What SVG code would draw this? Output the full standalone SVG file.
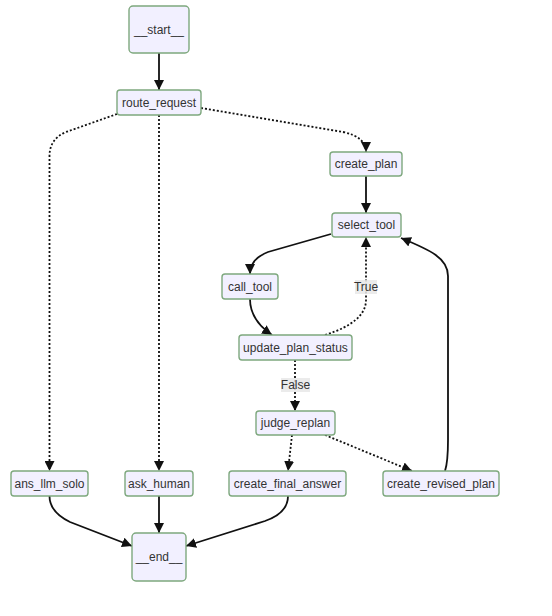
<svg xmlns="http://www.w3.org/2000/svg" width="552" height="616" viewBox="0 0 552 616">
<style>
.node rect{fill:#f2f0ff;stroke:#7ea87e;stroke-width:1.4}
.node text{font-family:"Liberation Sans",Arial,sans-serif;font-size:12px;fill:#333;text-anchor:middle;dominant-baseline:central}
.edge{fill:none;stroke:#111;stroke-width:1.8}
.dot{stroke-dasharray:2,2}
.lbl rect{fill:#e8e8e8;opacity:0.85}
.lbl text{font-family:"Liberation Sans",Arial,sans-serif;font-size:12px;fill:#333;text-anchor:middle;dominant-baseline:central}
</style>
<defs>
<marker id="arr" viewBox="0 0 10 10" refX="10" refY="5" markerWidth="10" markerHeight="10" markerUnits="userSpaceOnUse" orient="auto">
<path d="M0,0 L10,5 L0,10 z" fill="#111"/>
</marker>
</defs>
<rect width="552" height="616" fill="#fff"/>
<g id="edges">
<path class="edge" d="M159,53 L159,90" marker-end="url(#arr)"/>
<path class="edge dot" d="M201,108 L343,132 Q366,137 366,152" marker-end="url(#arr)"/>
<path class="edge dot" d="M117,114 L66,132 Q49.5,139 49.5,156 L49.5,471" marker-end="url(#arr)"/>
<path class="edge dot" d="M159,115 L159,471" marker-end="url(#arr)"/>
<path class="edge" d="M366,176 L366,213" marker-end="url(#arr)"/>
<path class="edge" d="M331,234 L268,252 Q250,259 250,274" marker-end="url(#arr)"/>
<path class="edge" d="M250,299 Q250,320 272,335" marker-end="url(#arr)"/>
<path class="edge dot" d="M325,335 Q366,322 366,300 L366,237" marker-end="url(#arr)"/>
<path class="edge dot" d="M295,360 L295,411" marker-end="url(#arr)"/>
<path class="edge dot" d="M292,435 L288,471" marker-end="url(#arr)"/>
<path class="edge dot" d="M325,435 L412,471" marker-end="url(#arr)"/>
<path class="edge" d="M445,471 C447,465 448,455 448,440 L448,276 C448,258 430,250 401,238" marker-end="url(#arr)"/>
<path class="edge" d="M49.5,496 Q49.5,512 70,522 L132,546" marker-end="url(#arr)"/>
<path class="edge" d="M159,496 L159,533" marker-end="url(#arr)"/>
<path class="edge" d="M288,496 Q288,513 265,521 L186,546" marker-end="url(#arr)"/>
<g class="lbl"><rect x="355" y="280" width="22" height="14"/><text x="366" y="287">True</text></g>
<g class="lbl"><rect x="281" y="378" width="29" height="14"/><text x="295.5" y="385">False</text></g>
</g>
<g id="start" class="node"><rect x="129" y="6" width="60" height="47" rx="4"/><text x="159" y="29.5">__start__</text></g>
<g id="route_request" class="node"><rect x="117" y="90" width="84" height="25" rx="3"/><text x="159" y="102.5">route_request</text></g>
<g id="create_plan" class="node"><rect x="330" y="152" width="72" height="24" rx="3"/><text x="366" y="164">create_plan</text></g>
<g id="select_tool" class="node"><rect x="332" y="213" width="69" height="24" rx="3"/><text x="366.5" y="225">select_tool</text></g>
<g id="call_tool" class="node"><rect x="222" y="274" width="56" height="25" rx="3"/><text x="250" y="286.5">call_tool</text></g>
<g id="update_plan_status" class="node"><rect x="239" y="335" width="113" height="25" rx="3"/><text x="295.5" y="347.5">update_plan_status</text></g>
<g id="judge_replan" class="node"><rect x="256" y="411" width="79" height="24" rx="3"/><text x="295.5" y="423">judge_replan</text></g>
<g id="ans_llm_solo" class="node"><rect x="11" y="471" width="77" height="25" rx="3"/><text x="49.5" y="483.5">ans_llm_solo</text></g>
<g id="ask_human" class="node"><rect x="125" y="471" width="68" height="25" rx="3"/><text x="159" y="483.5">ask_human</text></g>
<g id="create_final_answer" class="node"><rect x="229" y="471" width="117" height="25" rx="3"/><text x="287.5" y="483.5">create_final_answer</text></g>
<g id="create_revised_plan" class="node"><rect x="383" y="471" width="116" height="25" rx="3"/><text x="441" y="483.5">create_revised_plan</text></g>
<g id="end" class="node"><rect x="132" y="533" width="54" height="48" rx="4"/><text x="159" y="557">__end__</text></g>
</svg>
